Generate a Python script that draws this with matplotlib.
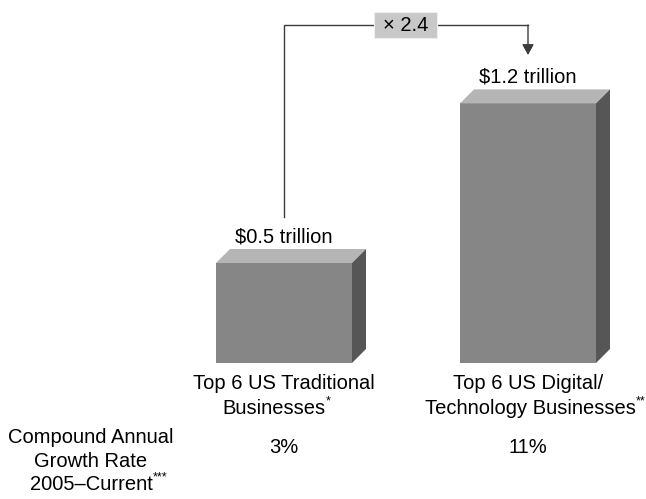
import matplotlib
matplotlib.use("Agg")
import matplotlib.pyplot as plt
from matplotlib.patches import Polygon, Rectangle

# Market value of two groups of US businesses ($ trillion)
category_lines = [["Top 6 US Traditional", "Businesses"],
                  ["Top 6 US Digital/", "Technology Businesses"]]
category_marks = ["*", "**"]
values = [0.5, 1.2]
value_labels = ["$0.5 trillion", "$1.2 trillion"]
growth_rates = ["3%", "11%"]
growth_label = ["Compound Annual", "Growth Rate", "2005\u2013Current"]
growth_mark = "***"
multiple_label = "\u00d7 2.4"

FONT = "Liberation Sans"
FS = 14.5
FRONT, TOP, SIDE = "#868686", "#b5b5b5", "#565656"
LINE = "#3c3c3c"

# axes spans the whole canvas: 244 px per category step, 228 px per $ trillion
PX_X, PX_Y = 244.0, 228.0
fig = plt.figure(figsize=(6.46, 4.99), dpi=100)
ax = fig.add_axes([0, 0, 1, 1])
ax.set_xlim(-284 / PX_X, 362 / PX_X)
ax.set_ylim(-136 / PX_Y, 363 / PX_Y)
ax.axis("off")

W = 136 / PX_X          # front face width
DX, DY = 14 / PX_X, 14 / PX_Y   # 3-D depth offset

xs = list(range(len(values)))
fronts = [v - DY for v in values]
ax.bar(xs, fronts, width=W, color=FRONT, zorder=2, linewidth=0)
for x, v, h in zip(xs, values, fronts):
    l, r = x - W / 2, x + W / 2
    ax.add_patch(Polygon([(l, h), (r, h), (r + DX, v), (l + DX, v)],
                         closed=True, facecolor=TOP, edgecolor="none", zorder=2))
    ax.add_patch(Polygon([(r, 0), (r + DX, DY), (r + DX, v), (r, h)],
                         closed=True, facecolor=SIDE, edgecolor="none", zorder=2))

txt = dict(family=FONT, fontsize=FS, color="black", va="baseline", ha="center")
mark_style = dict(xy=(1, 1), xytext=(0.4, 2.5), textcoords="offset points",
                  ha="left", va="top", family=FONT, fontsize=9)

# value labels above bars
for x, v, lab in zip(xs, values, value_labels):
    ax.text(x, v + 7 / PX_Y, lab, **txt)

# category labels with footnote marks
line_shift = [(0.0, -10 / PX_X), (0.0, 2 / PX_X)]
for x, lines, mark, sh in zip(xs, category_lines, category_marks, line_shift):
    ax.text(x + sh[0], -26 / PX_Y, lines[0], **txt)
    t2 = ax.text(x + sh[1], -51 / PX_Y, lines[1], **txt)
    ax.annotate(mark, xycoords=t2, **mark_style)

# growth row
for x, g in zip(xs, growth_rates):
    ax.text(x, -90 / PX_Y, g, **txt)
row_x = (91 - 284) / PX_X
row_y = [-80 / PX_Y, -104 / PX_Y, -127 / PX_Y]
for s, y in zip(growth_label, row_y):
    t = ax.text(row_x, y, s, **txt)
ax.annotate(growth_mark, xycoords=t, **mark_style)

# connector showing the multiple between the two bars
y_line = 338 / PX_Y
ax.plot([xs[0], xs[0], xs[1]], [values[0] + 0.14, y_line, y_line],
        color=LINE, lw=1.0, solid_joinstyle="miter", zorder=1)
ax.annotate("", xy=(xs[1], values[1] + 0.151), xytext=(xs[1], y_line),
            arrowprops=dict(arrowstyle="-|>,head_length=0.45,head_width=0.25",
                            color=LINE, lw=1.0, mutation_scale=14,
                            shrinkA=0, shrinkB=0), zorder=1)
bx0, bx1 = (374 - 284) / PX_X, (437 - 284) / PX_X
by0, by1 = (363 - 38) / PX_Y, (363 - 12) / PX_Y
ax.add_patch(Rectangle((bx0, by0), bx1 - bx0, by1 - by0, facecolor="#c8c8c8",
                       edgecolor="#eeeeee", lw=0.8, zorder=3))
ax.text((bx0 + bx1) / 2, (363 - 31) / PX_Y, multiple_label, zorder=4, **txt)

fig.savefig("out.png", dpi=100)
